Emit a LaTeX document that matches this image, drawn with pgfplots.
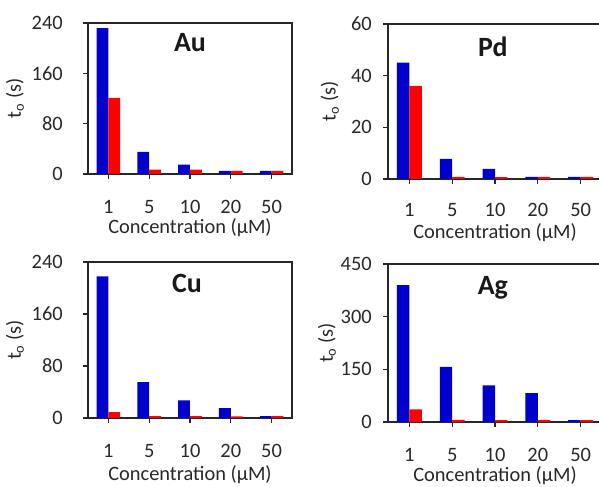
\documentclass[border=0pt]{standalone}
\usepackage{fontspec}
\setmainfont{Carlito}
\usepackage{pgfplots}
\pgfplotsset{compat=1.18}

\definecolor{barblue}{RGB}{0,0,205}
\definecolor{barred}{RGB}{255,0,0}
\definecolor{txt}{RGB}{40,40,40}

\pgfplotsset{
  panel/.style={
    scale only axis,
    anchor=south west,
    ybar, bar width=0.29,
    xmin=-0.5, xmax=4.5, ymin=0,
    xtick={0,1,2,3,4}, xticklabels={1,5,10,20,50},
    xtick pos=left, ytick pos=left,
    tick align=outside, major tick length=5bp,
    axis line style={line width=1.2bp, black!85},
    every tick/.style={line width=1.2bp, black!85},
    /pgf/number format/assume math mode=true,
    ticklabel style={font=\fontsize{20.5}{23}\selectfont, text=txt},
    xticklabel style={anchor=center, inner sep=0pt, yshift=-28bp},
    label style={font=\fontsize{20.5}{23}\selectfont, text=txt},
    xlabel={Concentration (µM)},
    ylabel={t\textsubscript{o} (s)},
    enlarge x limits=false,
  },
  blues/.style={fill=barblue, draw=none, bar shift=-0.145},
  reds/.style={fill=barred, draw=none, bar shift=0.145},
}
\newcommand{\paneltitle}[3]{\node[font=\fontsize{28}{31}\selectfont\bfseries, text=black!90] at (axis description cs:#1,#2) {#3};}

\begin{document}
\begin{tikzpicture}
\path[use as bounding box] (0,0) rectangle (599bp,487bp);

% Au
\begin{axis}[panel, at={(88bp,313bp)}, width=204bp, height=151bp,
  ymax=240, ytick={0,80,160,240},
  yticklabel style={anchor=east, inner sep=0pt, xshift=-20bp},
  xlabel style={at={(axis description cs:0.5,-0.355)}, anchor=center},
  ylabel style={at={(axis description cs:-0.358,0.5)}, anchor=center}]
\addplot[blues] coordinates {(0,232) (1,35) (2,15) (3,5) (4,5)};
\addplot[reds] coordinates {(0,121) (1,7) (2,7) (3,5) (4,5)};
\paneltitle{0.5}{0.87}{Au}
\end{axis}

% Pd
\begin{axis}[panel, at={(388bp,308bp)}, width=214bp, height=155bp,
  ymax=60, ytick={0,20,40,60},
  yticklabel style={anchor=east, inner sep=0pt, xshift=-11bp},
  xticklabel style={yshift=2bp},
  xlabel style={at={(axis description cs:0.5,-0.345)}, anchor=center},
  ylabel style={at={(axis description cs:-0.272,0.5)}, anchor=center}]
\addplot[blues] coordinates {(0,45) (1,7.8) (2,3.9) (3,0.8) (4,0.8)};
\addplot[reds] coordinates {(0,36) (1,0.8) (2,0.7) (3,0.8) (4,0.8)};
\paneltitle{0.49}{0.85}{Pd}
\end{axis}

% Cu
\begin{axis}[panel, at={(88bp,69bp)}, width=204bp, height=156bp,
  ymax=240, ytick={0,80,160,240},
  yticklabel style={anchor=east, inner sep=0pt, xshift=-20bp},
  xlabel style={at={(axis description cs:0.5,-0.365)}, anchor=center},
  ylabel style={at={(axis description cs:-0.358,0.5)}, anchor=center}]
\addplot[blues] coordinates {(0,218) (1,55) (2,27) (3,15) (4,3)};
\addplot[reds] coordinates {(0,9) (1,3) (2,3) (3,2.5) (4,3)};
\paneltitle{0.485}{0.86}{Cu}
\end{axis}

% Ag
\begin{axis}[panel, at={(388bp,65bp)}, width=214bp, height=158bp,
  ymax=450, ytick={0,150,300,450},
  yticklabel style={anchor=east, inner sep=0pt, xshift=-11bp},
  xlabel style={at={(axis description cs:0.5,-0.340)}, anchor=center},
  ylabel style={at={(axis description cs:-0.285,0.5)}, anchor=center}]
\addplot[blues] coordinates {(0,390) (1,157) (2,104) (3,82) (4,5)};
\addplot[reds] coordinates {(0,36) (1,6) (2,5) (3,5) (4,5)};
\paneltitle{0.49}{0.85}{Ag}
\end{axis}
\end{tikzpicture}
\end{document}
